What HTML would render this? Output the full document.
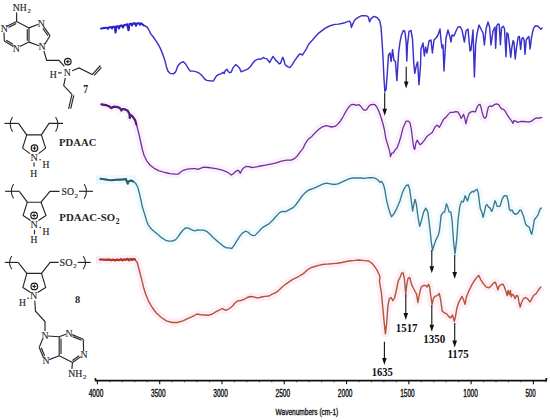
<!DOCTYPE html>
<html><head><meta charset="utf-8"><title>IR spectra</title>
<style>
html,body{margin:0;padding:0;background:#fff;}
body{width:550px;height:420px;overflow:hidden;font-family:"Liberation Sans",sans-serif;}
svg{display:block;}
</style></head><body>
<svg width="550" height="420" viewBox="0 0 550 420">
<rect width="550" height="420" fill="#fff"/>
<rect x="96" y="175.5" width="40" height="8.5" fill="#e2f7f9"/>
<rect x="96" y="256" width="40" height="7.6" fill="#fbe4f4"/>
<polyline points="101.4,104.4 105.9,105.1 109.5,106.6 111.4,108.2 113,107 114.1,106.6 117.7,107.1 120,108.2 121.4,110.5 122.4,109 125,109.4 127.7,110.7 129.5,114 129.8,118 130.5,115 132.3,116.2 135,119.8 136.4,124.5 137.5,128.3 139.2,135 140.8,142.5 142.5,150 144.2,155.8 146.7,160.8 150,165 154.2,168.3 159.2,170.8 165,172.5 170,173.7 175,174.2 178.3,174.2 180,172.5 183.3,170.3 187.5,169.2 192.3,168.6 195.2,168.6 198.1,169.3 201,168.2 203.9,167.2 208.3,167.5 212.6,168.2 217,168.9 221.4,169.9 225,171.1 227.9,172.5 230.1,174 231.3,175 233,174 234.5,172.5 236.6,170.7 238.5,170.4 240.3,173.3 241.7,170.4 243.2,168.2 246.1,166.3 249,166.7 251.9,167.5 254.8,167.2 257.7,166.7 260.6,166 265.4,165.2 270.7,164.1 276.1,162.9 281.4,161.1 286.8,160.2 291.3,160.2 294.8,158.4 297.5,155.7 300.2,151.8 302.9,148.6 305.5,143.2 308.2,139.3 311.8,136.4 315.4,132.5 318.9,129.3 322.5,126.8 326.1,125.7 328.3,126.1 331.5,127 334.8,126.4 337.5,124.4 340.3,121.2 343,116.8 345.7,111.9 348.4,107.5 351.2,104.6 353.9,104.3 356.6,105.4 358.8,104.6 361,106.5 363.2,109.7 365.3,110.3 367,109.2 368.6,106.5 370.8,104.6 373.5,104.3 375.2,104.8 376.8,107 378.4,110.3 380.1,114.6 381.7,119.5 383.3,125 384.4,129.9 385.9,138.8 387.9,145.4 389.8,151.9 390.5,156.5 391.8,153.2 393.1,153.2 395.1,149.9 397,148 399,142.7 401,136.2 402.9,128.3 404.9,123.8 406.2,121.1 408.2,121.1 409.9,122.4 411.2,128.3 412.5,138.8 413.8,148 414.7,149.3 416,142.7 417.3,140.1 418.6,142.7 419.9,144.7 421.9,143.4 424.5,140.1 427.1,136.2 429.8,134.2 432.4,132.3 435,127 437,125.1 439.4,127.2 441.5,123.4 443.7,119 445.9,117.4 448.1,114.6 450.3,112.4 453,112.4 455.7,111.6 457.9,111.9 459.5,114.6 461.2,118.4 462.3,116.8 463.6,114.4 464.7,117.9 465.9,123.9 467.2,118.4 468.8,113.5 471,111.9 473.2,111.4 475.3,111.9 477,107.5 478.6,104.8 479.9,104.3 480.8,106.5 481.9,111.4 483.5,116.8 484.9,118.4 486.3,116.8 487.3,111.4 488.4,107 490.1,105.9 491.7,106.5 493.3,105.4 495,104.3 496.5,103.9 498.7,104.6 500.4,107.5 502,109 503.6,109.4 505.3,111.4 507.4,115.2 509.6,118.4 511.8,121.2 512.9,123.4 514,120.6 515.6,121.2 517.8,122.3 520.5,121.5 523.8,121.5 527.1,121.9 529.3,122 531.4,121.2 533.6,119.5 535.8,118.1 538,117.9 539.6,118.2 541.8,117.4" fill="none" stroke="#fcf1fb" stroke-width="8" stroke-linejoin="round" stroke-linecap="butt"/>
<polyline points="100.5,178.8 104,179.2 108.6,180 112,180.2 116,179.8 120,179.6 122.3,179.5 126,179.1 127.7,183.6 128.2,181.8 130.9,180.5 133.2,181.4 135.5,183.2 137.7,186.8 139.8,195 142.4,207 144.9,215 146.5,220.5 148.2,224.8 150.9,228.6 154.2,231.4 158,234.6 161.8,237.9 165.6,240.3 168.9,241.2 172.2,241 175.4,239.9 177.6,237.4 180.3,233.5 183.1,230 185.8,227.9 188.5,228.1 191.3,229.7 194.5,230.8 197.8,230 200.5,230.1 203.5,230.1 206.8,231.4 210.1,234.3 213.3,237.7 216.6,240.6 219.9,243.2 223.2,246.1 226.4,247.8 229,247.8 231.7,248.5 234.3,245.2 236.9,240.6 239.5,236.7 242.1,233.4 245.4,231.2 248,232.1 250.7,234.7 253.3,235.6 255,235.4 258.6,231.7 262.1,227.9 265.7,225.7 269.3,223.6 272.9,220 276.4,216 279.3,212.9 282.1,211.4 285.7,211.7 289.3,209.7 293.6,207.4 296.4,204 299.3,200 302.1,196 305,192.9 308.6,190 312.9,188.6 316.4,187.1 320,185.4 322.6,184.1 326.5,183.1 330.3,183.8 334.1,184.5 337.9,183.8 341.7,182.2 345.5,180.3 349.4,178.7 353.2,178 357,178 360.8,178 364.6,178.4 368.5,177.7 372.3,177.7 375.5,178.4 378,180 379.9,182.2 381.8,181.5 383.7,185.4 385,190.5 386.4,199.3 387.9,205.7 389.7,212.1 391.4,216.7 393.6,214.3 395.7,210.7 397.9,205.7 400,200.7 402.1,193.6 404.3,188.6 406.4,185.3 408.3,185 409.7,189.3 411.1,199.3 412.6,211 414,203.6 415,199.3 416.4,204.3 417.9,216.4 419.7,226.4 421.4,220.7 423.6,212.1 425.7,208.1 427.9,212.1 430,229.6 431.3,242.1 432.5,250.2 433.9,245.7 435.7,240.4 438.4,235 439.6,229.6 441.1,215.4 442.9,212.7 444.6,211.8 446.4,203.8 447.9,207.3 449.1,211.8 450.9,211.8 452.1,220.7 453.6,242.1 455,253.8 456.8,238.6 458,220.7 459.8,206.4 461.6,201.1 463.4,202 465.2,195.7 467.5,201.1 469.6,193.9 472.3,191.3 473.6,192.1 475.7,190 477.1,189.3 478.3,192.9 479.3,201.4 480.3,208.6 482.1,212.9 483.1,217.4 484.3,212.9 485.7,205.7 487.1,204.6 488.6,207.1 490,207.9 491.7,211.4 493.1,207.9 495,200.7 496,202.9 497.1,206.4 500,206.4 502.1,199.3 504.3,195.7 506.9,196 508.3,201.4 509.3,209.3 510.7,210.7 512.1,210 513.6,213.1 515.7,214.3 517.9,213.1 520,210 521.4,210.7 523.6,216.4 525.7,224.3 527.9,226.4 529.3,227.1 530.7,232.1 531.7,234.3 532.9,228.6 534.3,220 536.4,217.1 538.3,214.3 540,209.3 541.4,207.9" fill="none" stroke="#eefafb" stroke-width="8" stroke-linejoin="round" stroke-linecap="butt"/>
<polyline points="100,259.5 104,259.6 107,259.8 109,259.4 111,260.3 113,259.6 115,260.4 117,259.5 119,260.2 121,259.2 122.5,260.4 124,259.3 126,259.9 127.5,258.8 129,260.3 130.5,259 132,260 133.5,258.9 135,259.6 137.2,262.5 138.8,268.3 140.5,275 142.2,281.7 143.8,288.3 146,295 148.8,301.7 152.2,307.5 156.3,313 161.3,317.5 166.3,320.8 172.2,322.5 177.2,322.5 183,320.8 188,318.3 192.2,316.7 197,314 200.8,314.7 204.6,315 208.5,315.3 212.3,314 216.1,311.7 219.3,310.2 222.5,308.5 224.4,309.8 226.3,310.2 229.5,308.5 232.6,306 235.2,302.8 237.7,300.9 240.9,300.5 244.1,299.3 247.3,297.5 249.8,296.5 253,296.7 256.2,297.7 260,297.5 261.4,297 265.2,296.4 269,296 272.2,294.2 275.4,292.9 278.5,290.6 281.7,287.5 285.5,284.3 289.4,281.7 293.2,279.2 297,277.3 299.5,276 301.5,274.7 302.7,274.1 304.6,272.6 307.2,270 311,267.7 314.8,266.5 318.6,265.4 322.5,264.5 326,264.1 328.7,264 333.1,263.6 337.4,263.3 341.8,262.5 346.2,261.5 350.5,260.7 354.9,260.4 359.3,260 362.5,260.4 365.8,260.9 368,260.7 370.2,262 372.3,263.6 374.5,266.4 376.7,269.6 378.9,274 380,277.3 379.4,281 381.3,291.8 383,309.6 384.3,323.9 385.4,333.8 386.6,323.9 387.9,306.1 389.3,298.9 391.1,297.5 392.9,300.7 394.6,298 396.4,290 398.2,281.1 400,277.5 401.8,273 403.2,273 404.5,279.3 405.7,293.6 406.8,284.6 408,278.4 409.8,277.5 411.6,284.6 413.4,288.2 415.2,291.8 416.4,293.6 417.9,302.5 419.3,294.5 421.1,287.3 423.2,285.5 425.7,285.4 427.1,287.1 428.6,284.3 429.7,287.1 430.7,295.7 432.1,304.3 433.6,297.9 435,296.4 437.1,295.7 439.3,293.6 440.7,300 442.1,310.7 444.3,312.9 446.4,313.6 448.6,316.4 450.7,317.9 452.6,315 454.3,321.4 455.4,317.1 456.9,307.9 458.6,302.9 460.7,298.6 462.1,296.4 463.6,300 465,304.3 466.4,297.1 468.6,291.4 471.4,285.7 474.3,280.7 477.1,277.1 478.8,275.4 480.7,279.6 483.3,283.5 485.8,286.6 488.4,287.9 490.9,286.4 493.5,282.8 495.4,282.2 496.6,285.4 497.9,289.8 499.2,286 501.1,284.7 503,284.1 504.5,287.3 506.2,292.4 507.1,295.5 508.1,290.5 509.4,294.9 510.4,290.5 511.3,296.8 512.5,294.3 513.8,295.5 515.1,298.7 516.4,295.5 518,296.2 518.9,301.9 520.2,307 521.5,302.5 523.4,298.7 525.7,297.5 527.8,299.1 530,301.9 531.6,299.4 533.5,295.5 536.1,293.6 538.6,289.8 540.9,286.9" fill="none" stroke="#fdeef8" stroke-width="8" stroke-linejoin="round" stroke-linecap="butt"/>
<polyline points="101,28.6 104,28 107,27.6 108,28.8 109,27.4 111,27 112,28.4 113,26.8 115,26.6 115.5,32.5 116.5,26.4 118,26.2 119,28.5 120,25.8 122,25.5 123,27.5 124,25.2 126,24.6 127,24.2 128.5,30.3 129.5,24 131,23.6 132,25.5 133,23.5 135,23.3 136,25.8 137,23.4 139,23.2 140,24.8 141,23.2 143.9,25.4 147,27 148.5,29.3 150.8,33.9 153.9,37.8 157,42.4 160.1,47.9 162.4,53.3 164.8,60.2 166.3,66.4 167.9,71.1 170.2,73.4 173.3,73.9 175.6,71.9 177.9,65.7 181,62.6 183.3,61.8 185.7,64.1 188,68 190.3,71.1 193.4,71.1 196.5,71.9 199.6,73.4 202.4,76.1 204.5,78.8 206.7,80.4 210,80.8 213.3,81 214.9,78.3 216.5,75.8 219.3,74.2 221.4,73.6 223.1,72.3 224.2,73.6 225.3,70.6 226.9,69.2 228,71.2 229.6,72.8 231.3,72 232.9,67.9 235.6,64.6 237.8,66.3 239.4,67.9 241.1,71.7 242.7,71.2 244.9,70.3 247.6,69.2 250.3,66.8 252.5,63.5 255.3,60.3 258,59.2 259.4,58.9 261,59.2 263.2,57.5 264.8,58.4 266.5,58.6 268.1,60.5 269.7,62.5 271.4,59.4 273,56.4 274.4,58.1 275.7,60.3 277.4,61.6 279,63.8 280.6,63.3 281.7,60 282.8,57.3 283.9,60 285,64.4 286.6,66 288.3,66.9 289.9,67.6 292.1,64.9 294.3,61.1 297,57.3 299.7,54 301.3,54.2 302.4,55.1 304.1,52.4 306.3,49.1 308.4,44.7 310.6,42 312.8,39.8 315,37.1 318.7,33.1 322,30.6 325.3,28.2 328.5,26.5 331.8,25.2 335.1,24.4 338.4,24.1 341.6,23.5 344.9,22.7 347.6,21.6 349.5,21.1 350.6,23 351.4,27.4 352.5,24.6 354.2,20.8 356.3,18.6 359.1,16.8 361.8,15.7 364.5,15.7 366.7,15.9 368.3,17 369.6,21.8 371.1,18.6 373.9,16.4 377.1,17.5 379.7,20.7 381,27.1 382.1,42.1 383.1,59.3 384,78.6 384.9,91.4 386.1,89.3 387.2,74.3 388.5,55 390,52.9 391.1,61.4 392.6,49.6 393.9,60.4 395.4,61.4 396.9,80.7 398.6,52.9 400,42.1 401.4,35.2 403.3,30.5 404.9,31.4 406.2,42.9 406.8,61 407.5,44.8 409,31.4 411,30.5 412.5,39 413.8,63.8 414.8,73.3 416.3,65.7 417.6,61.9 419,84.8 420.5,65.7 421,49 423,43 424.4,56 425.6,47 427,53 429,41 431,40 432.4,53 434,40 436,38 438,35 440,29 441,40 442,48 443,45 444,71 445,53 446,38 448,30 450,37 451,42 452,35 454,36 456,31 458,27 460,26.6 462,30 464.4,42 466,31 468,29 470,51 471,50 473,30 474.4,77 475.6,45 477,34 479,25 481,29 483,33 484.4,45 486,29 488,22 489.6,27 491,45 493,31 495,27 495.6,48.3 496.8,25.7 498,23.9 499.2,24.5 500.4,44.8 501.5,28.1 503.3,26.3 504.5,28.7 506,56.7 506.9,32.9 508.1,34 509.3,43.6 510.7,57.3 511.7,48.3 513.1,40.6 514,42.4 515.2,59 516.4,48.3 518.2,37 519.4,36.4 520.6,49.5 521.8,38.8 523,37.6 524.2,40.6 525,54.3 526.2,40 527.7,37.6 528.9,36.4 530.1,48.9 531.3,38.8 532.5,32.3 533.7,28.1 535.5,25.7 537.9,26.3 539.6,28.1 540.8,29.3 542,28.1" fill="none" stroke="#3a30cc" stroke-width="1.45" stroke-linejoin="round" stroke-linecap="round"/>
<polyline points="101,28.6 104,28 107,27.6 108,28.8 109,27.4 111,27 112,28.4 113,26.8 115,26.6 115.5,32.5 116.5,26.4 118,26.2 119,28.5 120,25.8 122,25.5 123,27.5 124,25.2 126,24.6 127,24.2 128.5,30.3 129.5,24 131,23.6 132,25.5 133,23.5 135,23.3 136,25.8 137,23.4 139,23.2 140,24.8 141,23.2 143.9,25.4" fill="none" stroke="#2a20d0" stroke-width="1.9" stroke-linejoin="round" stroke-linecap="round"/>
<polyline points="101.4,104.4 105.9,105.1 109.5,106.6 111.4,108.2 113,107 114.1,106.6 117.7,107.1 120,108.2 121.4,110.5 122.4,109 125,109.4 127.7,110.7 129.5,114 129.8,118 130.5,115 132.3,116.2 135,119.8 136.4,124.5 137.5,128.3 139.2,135 140.8,142.5 142.5,150 144.2,155.8 146.7,160.8 150,165 154.2,168.3 159.2,170.8 165,172.5 170,173.7 175,174.2 178.3,174.2 180,172.5 183.3,170.3 187.5,169.2 192.3,168.6 195.2,168.6 198.1,169.3 201,168.2 203.9,167.2 208.3,167.5 212.6,168.2 217,168.9 221.4,169.9 225,171.1 227.9,172.5 230.1,174 231.3,175 233,174 234.5,172.5 236.6,170.7 238.5,170.4 240.3,173.3 241.7,170.4 243.2,168.2 246.1,166.3 249,166.7 251.9,167.5 254.8,167.2 257.7,166.7 260.6,166 265.4,165.2 270.7,164.1 276.1,162.9 281.4,161.1 286.8,160.2 291.3,160.2 294.8,158.4 297.5,155.7 300.2,151.8 302.9,148.6 305.5,143.2 308.2,139.3 311.8,136.4 315.4,132.5 318.9,129.3 322.5,126.8 326.1,125.7 328.3,126.1 331.5,127 334.8,126.4 337.5,124.4 340.3,121.2 343,116.8 345.7,111.9 348.4,107.5 351.2,104.6 353.9,104.3 356.6,105.4 358.8,104.6 361,106.5 363.2,109.7 365.3,110.3 367,109.2 368.6,106.5 370.8,104.6 373.5,104.3 375.2,104.8 376.8,107 378.4,110.3 380.1,114.6 381.7,119.5 383.3,125 384.4,129.9 385.9,138.8 387.9,145.4 389.8,151.9 390.5,156.5 391.8,153.2 393.1,153.2 395.1,149.9 397,148 399,142.7 401,136.2 402.9,128.3 404.9,123.8 406.2,121.1 408.2,121.1 409.9,122.4 411.2,128.3 412.5,138.8 413.8,148 414.7,149.3 416,142.7 417.3,140.1 418.6,142.7 419.9,144.7 421.9,143.4 424.5,140.1 427.1,136.2 429.8,134.2 432.4,132.3 435,127 437,125.1 439.4,127.2 441.5,123.4 443.7,119 445.9,117.4 448.1,114.6 450.3,112.4 453,112.4 455.7,111.6 457.9,111.9 459.5,114.6 461.2,118.4 462.3,116.8 463.6,114.4 464.7,117.9 465.9,123.9 467.2,118.4 468.8,113.5 471,111.9 473.2,111.4 475.3,111.9 477,107.5 478.6,104.8 479.9,104.3 480.8,106.5 481.9,111.4 483.5,116.8 484.9,118.4 486.3,116.8 487.3,111.4 488.4,107 490.1,105.9 491.7,106.5 493.3,105.4 495,104.3 496.5,103.9 498.7,104.6 500.4,107.5 502,109 503.6,109.4 505.3,111.4 507.4,115.2 509.6,118.4 511.8,121.2 512.9,123.4 514,120.6 515.6,121.2 517.8,122.3 520.5,121.5 523.8,121.5 527.1,121.9 529.3,122 531.4,121.2 533.6,119.5 535.8,118.1 538,117.9 539.6,118.2 541.8,117.4" fill="none" stroke="#6a32a0" stroke-width="1.3" stroke-linejoin="round" stroke-linecap="round"/>
<polyline points="101.4,104.4 105.9,105.1 109.5,106.6 111.4,108.2 113,107 114.1,106.6 117.7,107.1 120,108.2 121.4,110.5 122.4,109 125,109.4 127.7,110.7 129.5,114 129.8,118 130.5,115 132.3,116.2 135,119.8 136.4,124.5" fill="none" stroke="#4e1f78" stroke-width="2.2" stroke-linejoin="round" stroke-linecap="round"/>
<polyline points="100.5,178.8 104,179.2 108.6,180 112,180.2 116,179.8 120,179.6 122.3,179.5 126,179.1 127.7,183.6 128.2,181.8 130.9,180.5 133.2,181.4 135.5,183.2 137.7,186.8 139.8,195 142.4,207 144.9,215 146.5,220.5 148.2,224.8 150.9,228.6 154.2,231.4 158,234.6 161.8,237.9 165.6,240.3 168.9,241.2 172.2,241 175.4,239.9 177.6,237.4 180.3,233.5 183.1,230 185.8,227.9 188.5,228.1 191.3,229.7 194.5,230.8 197.8,230 200.5,230.1 203.5,230.1 206.8,231.4 210.1,234.3 213.3,237.7 216.6,240.6 219.9,243.2 223.2,246.1 226.4,247.8 229,247.8 231.7,248.5 234.3,245.2 236.9,240.6 239.5,236.7 242.1,233.4 245.4,231.2 248,232.1 250.7,234.7 253.3,235.6 255,235.4 258.6,231.7 262.1,227.9 265.7,225.7 269.3,223.6 272.9,220 276.4,216 279.3,212.9 282.1,211.4 285.7,211.7 289.3,209.7 293.6,207.4 296.4,204 299.3,200 302.1,196 305,192.9 308.6,190 312.9,188.6 316.4,187.1 320,185.4 322.6,184.1 326.5,183.1 330.3,183.8 334.1,184.5 337.9,183.8 341.7,182.2 345.5,180.3 349.4,178.7 353.2,178 357,178 360.8,178 364.6,178.4 368.5,177.7 372.3,177.7 375.5,178.4 378,180 379.9,182.2 381.8,181.5 383.7,185.4 385,190.5 386.4,199.3 387.9,205.7 389.7,212.1 391.4,216.7 393.6,214.3 395.7,210.7 397.9,205.7 400,200.7 402.1,193.6 404.3,188.6 406.4,185.3 408.3,185 409.7,189.3 411.1,199.3 412.6,211 414,203.6 415,199.3 416.4,204.3 417.9,216.4 419.7,226.4 421.4,220.7 423.6,212.1 425.7,208.1 427.9,212.1 430,229.6 431.3,242.1 432.5,250.2 433.9,245.7 435.7,240.4 438.4,235 439.6,229.6 441.1,215.4 442.9,212.7 444.6,211.8 446.4,203.8 447.9,207.3 449.1,211.8 450.9,211.8 452.1,220.7 453.6,242.1 455,253.8 456.8,238.6 458,220.7 459.8,206.4 461.6,201.1 463.4,202 465.2,195.7 467.5,201.1 469.6,193.9 472.3,191.3 473.6,192.1 475.7,190 477.1,189.3 478.3,192.9 479.3,201.4 480.3,208.6 482.1,212.9 483.1,217.4 484.3,212.9 485.7,205.7 487.1,204.6 488.6,207.1 490,207.9 491.7,211.4 493.1,207.9 495,200.7 496,202.9 497.1,206.4 500,206.4 502.1,199.3 504.3,195.7 506.9,196 508.3,201.4 509.3,209.3 510.7,210.7 512.1,210 513.6,213.1 515.7,214.3 517.9,213.1 520,210 521.4,210.7 523.6,216.4 525.7,224.3 527.9,226.4 529.3,227.1 530.7,232.1 531.7,234.3 532.9,228.6 534.3,220 536.4,217.1 538.3,214.3 540,209.3 541.4,207.9" fill="none" stroke="#3d7690" stroke-width="1.35" stroke-linejoin="round" stroke-linecap="round"/>
<polyline points="100.5,178.8 104,179.2 108.6,180 112,180.2 116,179.8 120,179.6 122.3,179.5 126,179.1 127.7,183.6 128.2,181.8 130.9,180.5 133.2,181.4" fill="none" stroke="#2f5d70" stroke-width="2.1" stroke-linejoin="round" stroke-linecap="round"/>
<polyline points="100,259.5 104,259.6 107,259.8 109,259.4 111,260.3 113,259.6 115,260.4 117,259.5 119,260.2 121,259.2 122.5,260.4 124,259.3 126,259.9 127.5,258.8 129,260.3 130.5,259 132,260 133.5,258.9 135,259.6 137.2,262.5 138.8,268.3 140.5,275 142.2,281.7 143.8,288.3 146,295 148.8,301.7 152.2,307.5 156.3,313 161.3,317.5 166.3,320.8 172.2,322.5 177.2,322.5 183,320.8 188,318.3 192.2,316.7 197,314 200.8,314.7 204.6,315 208.5,315.3 212.3,314 216.1,311.7 219.3,310.2 222.5,308.5 224.4,309.8 226.3,310.2 229.5,308.5 232.6,306 235.2,302.8 237.7,300.9 240.9,300.5 244.1,299.3 247.3,297.5 249.8,296.5 253,296.7 256.2,297.7 260,297.5 261.4,297 265.2,296.4 269,296 272.2,294.2 275.4,292.9 278.5,290.6 281.7,287.5 285.5,284.3 289.4,281.7 293.2,279.2 297,277.3 299.5,276 301.5,274.7 302.7,274.1 304.6,272.6 307.2,270 311,267.7 314.8,266.5 318.6,265.4 322.5,264.5 326,264.1 328.7,264 333.1,263.6 337.4,263.3 341.8,262.5 346.2,261.5 350.5,260.7 354.9,260.4 359.3,260 362.5,260.4 365.8,260.9 368,260.7 370.2,262 372.3,263.6 374.5,266.4 376.7,269.6 378.9,274 380,277.3 379.4,281 381.3,291.8 383,309.6 384.3,323.9 385.4,333.8 386.6,323.9 387.9,306.1 389.3,298.9 391.1,297.5 392.9,300.7 394.6,298 396.4,290 398.2,281.1 400,277.5 401.8,273 403.2,273 404.5,279.3 405.7,293.6 406.8,284.6 408,278.4 409.8,277.5 411.6,284.6 413.4,288.2 415.2,291.8 416.4,293.6 417.9,302.5 419.3,294.5 421.1,287.3 423.2,285.5 425.7,285.4 427.1,287.1 428.6,284.3 429.7,287.1 430.7,295.7 432.1,304.3 433.6,297.9 435,296.4 437.1,295.7 439.3,293.6 440.7,300 442.1,310.7 444.3,312.9 446.4,313.6 448.6,316.4 450.7,317.9 452.6,315 454.3,321.4 455.4,317.1 456.9,307.9 458.6,302.9 460.7,298.6 462.1,296.4 463.6,300 465,304.3 466.4,297.1 468.6,291.4 471.4,285.7 474.3,280.7 477.1,277.1 478.8,275.4 480.7,279.6 483.3,283.5 485.8,286.6 488.4,287.9 490.9,286.4 493.5,282.8 495.4,282.2 496.6,285.4 497.9,289.8 499.2,286 501.1,284.7 503,284.1 504.5,287.3 506.2,292.4 507.1,295.5 508.1,290.5 509.4,294.9 510.4,290.5 511.3,296.8 512.5,294.3 513.8,295.5 515.1,298.7 516.4,295.5 518,296.2 518.9,301.9 520.2,307 521.5,302.5 523.4,298.7 525.7,297.5 527.8,299.1 530,301.9 531.6,299.4 533.5,295.5 536.1,293.6 538.6,289.8 540.9,286.9" fill="none" stroke="#b05636" stroke-width="1.4" stroke-linejoin="round" stroke-linecap="round"/>
<polyline points="100,259.5 104,259.6 107,259.8 109,259.4 111,260.3 113,259.6 115,260.4 117,259.5 119,260.2 121,259.2 122.5,260.4 124,259.3 126,259.9 127.5,258.8 129,260.3 130.5,259 132,260 133.5,258.9 135,259.6" fill="none" stroke="#b03820" stroke-width="2.2" stroke-linejoin="round" stroke-linecap="round"/>
<line x1="384.7" y1="92.5" x2="384.7" y2="109.8" stroke="#111" stroke-width="1.1"/>
<polygon points="382.4,108.8 387.0,108.8 384.7,115.8" fill="#111"/>
<line x1="406.2" y1="66.7" x2="406.2" y2="82.6" stroke="#111" stroke-width="1.1"/>
<polygon points="403.9,81.6 408.5,81.6 406.2,88.6" fill="#111"/>
<line x1="431.8" y1="250" x2="431.8" y2="267.3" stroke="#111" stroke-width="1.1"/>
<polygon points="429.5,266.3 434.1,266.3 431.8,273.3" fill="#111"/>
<line x1="454.7" y1="255" x2="454.7" y2="273.0" stroke="#111" stroke-width="1.1"/>
<polygon points="452.4,272.0 457.0,272.0 454.7,279" fill="#111"/>
<line x1="405.8" y1="294" x2="405.8" y2="314.0" stroke="#111" stroke-width="1.1"/>
<polygon points="403.5,313.0 408.1,313.0 405.8,320" fill="#111"/>
<line x1="431.8" y1="305" x2="431.8" y2="325.7" stroke="#111" stroke-width="1.1"/>
<polygon points="429.5,324.7 434.1,324.7 431.8,331.7" fill="#111"/>
<line x1="454.7" y1="323" x2="454.7" y2="341.5" stroke="#111" stroke-width="1.1"/>
<polygon points="452.4,340.5 457.0,340.5 454.7,347.5" fill="#111"/>
<line x1="384.4" y1="341.7" x2="384.4" y2="358.9" stroke="#111" stroke-width="1.1"/>
<polygon points="382.09999999999997,357.9 386.7,357.9 384.4,364.9" fill="#111"/>
<polyline points="95.3,378.2 95.6,380.7 546.2,380.7 546.4,378.0" fill="none" stroke="#111" stroke-width="1.8" stroke-linejoin="round"/>
<line x1="97.40" y1="380.5" x2="97.40" y2="384.2" stroke="#111" stroke-width="1.1"/>
<line x1="109.86" y1="380.5" x2="109.86" y2="382.3" stroke="#111" stroke-width="0.7"/>
<line x1="122.31" y1="380.5" x2="122.31" y2="382.3" stroke="#111" stroke-width="0.7"/>
<line x1="134.77" y1="380.5" x2="134.77" y2="382.3" stroke="#111" stroke-width="0.7"/>
<line x1="147.23" y1="380.5" x2="147.23" y2="382.3" stroke="#111" stroke-width="0.7"/>
<line x1="159.69" y1="380.5" x2="159.69" y2="384.2" stroke="#111" stroke-width="1.1"/>
<line x1="172.14" y1="380.5" x2="172.14" y2="382.3" stroke="#111" stroke-width="0.7"/>
<line x1="184.60" y1="380.5" x2="184.60" y2="382.3" stroke="#111" stroke-width="0.7"/>
<line x1="197.06" y1="380.5" x2="197.06" y2="382.3" stroke="#111" stroke-width="0.7"/>
<line x1="209.51" y1="380.5" x2="209.51" y2="382.3" stroke="#111" stroke-width="0.7"/>
<line x1="221.97" y1="380.5" x2="221.97" y2="384.2" stroke="#111" stroke-width="1.1"/>
<line x1="234.43" y1="380.5" x2="234.43" y2="382.3" stroke="#111" stroke-width="0.7"/>
<line x1="246.89" y1="380.5" x2="246.89" y2="382.3" stroke="#111" stroke-width="0.7"/>
<line x1="259.34" y1="380.5" x2="259.34" y2="382.3" stroke="#111" stroke-width="0.7"/>
<line x1="271.80" y1="380.5" x2="271.80" y2="382.3" stroke="#111" stroke-width="0.7"/>
<line x1="284.26" y1="380.5" x2="284.26" y2="384.2" stroke="#111" stroke-width="1.1"/>
<line x1="296.71" y1="380.5" x2="296.71" y2="382.3" stroke="#111" stroke-width="0.7"/>
<line x1="309.17" y1="380.5" x2="309.17" y2="382.3" stroke="#111" stroke-width="0.7"/>
<line x1="321.63" y1="380.5" x2="321.63" y2="382.3" stroke="#111" stroke-width="0.7"/>
<line x1="334.08" y1="380.5" x2="334.08" y2="382.3" stroke="#111" stroke-width="0.7"/>
<line x1="346.54" y1="380.5" x2="346.54" y2="384.2" stroke="#111" stroke-width="1.1"/>
<line x1="359.00" y1="380.5" x2="359.00" y2="382.3" stroke="#111" stroke-width="0.7"/>
<line x1="371.46" y1="380.5" x2="371.46" y2="382.3" stroke="#111" stroke-width="0.7"/>
<line x1="383.91" y1="380.5" x2="383.91" y2="382.3" stroke="#111" stroke-width="0.7"/>
<line x1="396.37" y1="380.5" x2="396.37" y2="382.3" stroke="#111" stroke-width="0.7"/>
<line x1="408.83" y1="380.5" x2="408.83" y2="384.2" stroke="#111" stroke-width="1.1"/>
<line x1="421.28" y1="380.5" x2="421.28" y2="382.3" stroke="#111" stroke-width="0.7"/>
<line x1="433.74" y1="380.5" x2="433.74" y2="382.3" stroke="#111" stroke-width="0.7"/>
<line x1="446.20" y1="380.5" x2="446.20" y2="382.3" stroke="#111" stroke-width="0.7"/>
<line x1="458.66" y1="380.5" x2="458.66" y2="382.3" stroke="#111" stroke-width="0.7"/>
<line x1="471.11" y1="380.5" x2="471.11" y2="384.2" stroke="#111" stroke-width="1.1"/>
<line x1="483.57" y1="380.5" x2="483.57" y2="382.3" stroke="#111" stroke-width="0.7"/>
<line x1="496.03" y1="380.5" x2="496.03" y2="382.3" stroke="#111" stroke-width="0.7"/>
<line x1="508.48" y1="380.5" x2="508.48" y2="382.3" stroke="#111" stroke-width="0.7"/>
<line x1="520.94" y1="380.5" x2="520.94" y2="382.3" stroke="#111" stroke-width="0.7"/>
<line x1="533.40" y1="380.5" x2="533.40" y2="384.2" stroke="#111" stroke-width="1.1"/>
<line x1="545.86" y1="380.5" x2="545.86" y2="382.3" stroke="#111" stroke-width="0.7"/>
<text x="88.70" y="397.2" font-family="Liberation Sans" font-size="10.1" textLength="14.6" lengthAdjust="spacingAndGlyphs" fill="#111" stroke="#111" stroke-width="0.4">4000</text>
<text x="150.99" y="397.2" font-family="Liberation Sans" font-size="10.1" textLength="14.6" lengthAdjust="spacingAndGlyphs" fill="#111" stroke="#111" stroke-width="0.4">3500</text>
<text x="213.27" y="397.2" font-family="Liberation Sans" font-size="10.1" textLength="14.6" lengthAdjust="spacingAndGlyphs" fill="#111" stroke="#111" stroke-width="0.4">3000</text>
<text x="275.56" y="397.2" font-family="Liberation Sans" font-size="10.1" textLength="14.6" lengthAdjust="spacingAndGlyphs" fill="#111" stroke="#111" stroke-width="0.4">2500</text>
<text x="337.84" y="397.2" font-family="Liberation Sans" font-size="10.1" textLength="14.6" lengthAdjust="spacingAndGlyphs" fill="#111" stroke="#111" stroke-width="0.4">2000</text>
<text x="400.13" y="397.2" font-family="Liberation Sans" font-size="10.1" textLength="14.6" lengthAdjust="spacingAndGlyphs" fill="#111" stroke="#111" stroke-width="0.4">1500</text>
<text x="463.31" y="397.2" font-family="Liberation Sans" font-size="10.1" textLength="14.6" lengthAdjust="spacingAndGlyphs" fill="#111" stroke="#111" stroke-width="0.4">1000</text>
<text x="525.40" y="397.2" font-family="Liberation Sans" font-size="10.1" textLength="10.4" lengthAdjust="spacingAndGlyphs" fill="#111" stroke="#111" stroke-width="0.4">500</text>
<text x="275.6" y="414.6" font-family="Liberation Sans" font-size="8.8" textLength="62.7" lengthAdjust="spacingAndGlyphs" fill="#111" stroke="#111" stroke-width="0.35">Wavenumbers (cm-1)</text>
<text x="371.8" y="375.9" font-family="Liberation Serif" font-weight="bold" font-size="12.0" textLength="21.1" lengthAdjust="spacingAndGlyphs" fill="#111">1635</text>
<text x="395.8" y="331.7" font-family="Liberation Serif" font-weight="bold" font-size="12.0" textLength="21.7" lengthAdjust="spacingAndGlyphs" fill="#111">1517</text>
<text x="423.3" y="343" font-family="Liberation Serif" font-weight="bold" font-size="12.0" textLength="22" lengthAdjust="spacingAndGlyphs" fill="#111">1350</text>
<text x="447.5" y="358" font-family="Liberation Serif" font-weight="bold" font-size="12.0" textLength="21.2" lengthAdjust="spacingAndGlyphs" fill="#111">1175</text>
<text x="12.80" y="10.50" font-family="Liberation Serif" font-size="9.6" textLength="14.0" lengthAdjust="spacingAndGlyphs" text-anchor="start" fill="#262626" stroke="#262626" stroke-width="0.18">NH</text>
<text x="27.40" y="12.60" font-family="Liberation Serif" font-size="6.8" text-anchor="start" fill="#262626" stroke="#262626" stroke-width="0.18">2</text>
<line x1="16.60" y1="12.40" x2="16.60" y2="21.40" stroke="#262626" stroke-width="1.15"/>
<line x1="16.60" y1="21.40" x2="6.60" y2="26.60" stroke="#262626" stroke-width="1.15"/>
<line x1="16.18" y1="23.53" x2="8.58" y2="27.48" stroke="#262626" stroke-width="1.15"/>
<line x1="4.00" y1="32.40" x2="4.30" y2="41.00" stroke="#262626" stroke-width="1.15"/>
<line x1="4.30" y1="41.00" x2="13.30" y2="46.40" stroke="#262626" stroke-width="1.15"/>
<line x1="6.25" y1="40.19" x2="13.09" y2="44.29" stroke="#262626" stroke-width="1.15"/>
<line x1="19.80" y1="46.60" x2="29.00" y2="42.10" stroke="#262626" stroke-width="1.15"/>
<line x1="29.00" y1="42.10" x2="29.00" y2="27.90" stroke="#262626" stroke-width="1.15"/>
<line x1="27.30" y1="40.68" x2="27.30" y2="29.32" stroke="#262626" stroke-width="1.15"/>
<line x1="29.00" y1="27.90" x2="16.60" y2="21.40" stroke="#262626" stroke-width="1.15"/>
<line x1="29.00" y1="27.90" x2="38.40" y2="24.30" stroke="#262626" stroke-width="1.15"/>
<line x1="43.60" y1="26.60" x2="50.00" y2="35.70" stroke="#262626" stroke-width="1.15"/>
<line x1="42.85" y1="28.49" x2="47.97" y2="35.77" stroke="#262626" stroke-width="1.15"/>
<line x1="50.00" y1="35.70" x2="44.80" y2="44.20" stroke="#262626" stroke-width="1.15"/>
<line x1="39.00" y1="45.80" x2="29.00" y2="42.10" stroke="#262626" stroke-width="1.15"/>
<text x="4.20" y="32.20" font-family="Liberation Serif" font-size="9.8" text-anchor="middle" fill="#262626" stroke="#262626" stroke-width="0.1">N</text>
<text x="16.40" y="52.10" font-family="Liberation Serif" font-size="9.8" text-anchor="middle" fill="#262626" stroke="#262626" stroke-width="0.1">N</text>
<text x="41.40" y="26.50" font-family="Liberation Serif" font-size="9.8" text-anchor="middle" fill="#262626" stroke="#262626" stroke-width="0.1">N</text>
<text x="42.10" y="50.30" font-family="Liberation Serif" font-size="9.8" text-anchor="middle" fill="#262626" stroke="#262626" stroke-width="0.1">N</text>
<polyline points="43.90,51.00 46.70,60.40 58.90,60.40 64.40,66.40" fill="none" stroke="#262626" stroke-width="1.15" stroke-linejoin="miter"/>
<circle cx="67.8" cy="61.6" r="3.3" fill="none" stroke="#1a1a1a" stroke-width="1.2"/>
<line x1="65.89" y1="61.60" x2="69.71" y2="61.60" stroke="#1a1a1a" stroke-width="1.1"/>
<line x1="67.80" y1="59.69" x2="67.80" y2="63.51" stroke="#1a1a1a" stroke-width="1.1"/>
<text x="67.20" y="75.60" font-family="Liberation Serif" font-size="9.8" text-anchor="middle" fill="#262626" stroke="#262626" stroke-width="0.1">N</text>
<text x="53.40" y="78.20" font-family="Liberation Serif" font-size="9.8" text-anchor="middle" fill="#262626" stroke="#262626" stroke-width="0.18">H</text>
<line x1="58.00" y1="72.90" x2="61.70" y2="72.90" stroke="#262626" stroke-width="1.15"/>
<polyline points="72.20,70.80 79.00,67.90 92.30,74.60 100.40,65.50" fill="none" stroke="#262626" stroke-width="1.15" stroke-linejoin="miter"/>
<line x1="94.20" y1="75.47" x2="101.49" y2="67.28" stroke="#262626" stroke-width="1.15"/>
<polyline points="65.30,77.90 63.70,85.60 72.00,94.30 68.60,108.80" fill="none" stroke="#262626" stroke-width="1.15" stroke-linejoin="miter"/>
<line x1="73.78" y1="95.48" x2="70.72" y2="108.53" stroke="#262626" stroke-width="1.15"/>
<text x="83.30" y="92.70" font-family="Liberation Serif" font-size="11.8" font-weight="bold" textLength="4.9" lengthAdjust="spacingAndGlyphs" text-anchor="start" fill="#262626">7</text>
<line x1="4.50" y1="123.40" x2="18.50" y2="123.40" stroke="#262626" stroke-width="1.15"/>
<path d="M12.50,117.00 Q7.90,124.30 12.50,131.60" fill="none" stroke="#262626" stroke-width="1.05"/>
<polyline points="18.50,123.40 26.70,134.80 41.40,134.80 49.00,123.40 63.00,123.40" fill="none" stroke="#262626" stroke-width="1.15" stroke-linejoin="miter"/>
<path d="M55.60,117.00 Q60.20,124.30 55.60,131.60" fill="none" stroke="#262626" stroke-width="1.05"/>
<polyline points="26.70,134.80 22.60,148.10 30.00,153.60" fill="none" stroke="#262626" stroke-width="1.15" stroke-linejoin="miter"/>
<polyline points="41.40,134.80 45.60,148.10 38.60,153.60" fill="none" stroke="#262626" stroke-width="1.15" stroke-linejoin="miter"/>
<circle cx="34.5" cy="148.1" r="3.3" fill="none" stroke="#1a1a1a" stroke-width="1.2"/>
<line x1="32.59" y1="148.10" x2="36.41" y2="148.10" stroke="#1a1a1a" stroke-width="1.1"/>
<line x1="34.50" y1="146.19" x2="34.50" y2="150.01" stroke="#1a1a1a" stroke-width="1.1"/>
<text x="34.20" y="160.50" font-family="Liberation Serif" font-size="10.2" text-anchor="middle" fill="#262626" stroke="#262626" stroke-width="0.1">N</text>
<circle cx="40.1" cy="159.7" r="0.8" fill="#262626"/>
<text x="46.00" y="167.70" font-family="Liberation Serif" font-size="9.6" text-anchor="middle" fill="#262626" stroke="#262626" stroke-width="0.18">H</text>
<line x1="34.00" y1="162.40" x2="34.00" y2="166.40" stroke="#262626" stroke-width="1.15"/>
<text x="33.60" y="176.70" font-family="Liberation Serif" font-size="9.6" text-anchor="middle" fill="#262626" stroke="#262626" stroke-width="0.18">H</text>
<text x="59.00" y="146.30" font-family="Liberation Serif" font-size="10.4" font-weight="bold" textLength="37.4" lengthAdjust="spacingAndGlyphs" text-anchor="start" fill="#262626">PDAAC</text>
<line x1="5.10" y1="191.30" x2="19.30" y2="191.30" stroke="#262626" stroke-width="1.15"/>
<path d="M13.60,184.00 Q9.00,191.25 13.60,198.50" fill="none" stroke="#262626" stroke-width="1.05"/>
<polyline points="19.30,191.30 27.30,202.20 41.00,202.20 50.00,191.30 59.50,191.30" fill="none" stroke="#262626" stroke-width="1.15" stroke-linejoin="miter"/>
<text x="61.50" y="195.00" font-family="Liberation Serif" font-size="9.8" textLength="12.5" lengthAdjust="spacingAndGlyphs" text-anchor="start" fill="#262626" stroke="#262626" stroke-width="0.18">SO</text>
<text x="74.50" y="198.00" font-family="Liberation Serif" font-size="7.0" text-anchor="start" fill="#262626" stroke="#262626" stroke-width="0.18">2</text>
<line x1="79.00" y1="191.30" x2="93.00" y2="191.30" stroke="#262626" stroke-width="1.15"/>
<path d="M84.20,184.00 Q88.80,191.35 84.20,198.70" fill="none" stroke="#262626" stroke-width="1.05"/>
<polyline points="27.30,202.20 23.10,215.50 30.60,220.60" fill="none" stroke="#262626" stroke-width="1.15" stroke-linejoin="miter"/>
<polyline points="41.00,202.20 46.00,215.50 38.40,220.60" fill="none" stroke="#262626" stroke-width="1.15" stroke-linejoin="miter"/>
<circle cx="34.1" cy="215.5" r="3.3" fill="none" stroke="#1a1a1a" stroke-width="1.2"/>
<line x1="32.19" y1="215.50" x2="36.01" y2="215.50" stroke="#1a1a1a" stroke-width="1.1"/>
<line x1="34.10" y1="213.59" x2="34.10" y2="217.41" stroke="#1a1a1a" stroke-width="1.1"/>
<text x="34.30" y="228.00" font-family="Liberation Serif" font-size="10.2" text-anchor="middle" fill="#262626" stroke="#262626" stroke-width="0.1">N</text>
<circle cx="40.2" cy="227.6" r="0.8" fill="#262626"/>
<text x="46.00" y="234.60" font-family="Liberation Serif" font-size="9.6" text-anchor="middle" fill="#262626" stroke="#262626" stroke-width="0.18">H</text>
<line x1="34.50" y1="229.90" x2="34.50" y2="234.40" stroke="#262626" stroke-width="1.15"/>
<text x="34.00" y="243.20" font-family="Liberation Serif" font-size="9.6" text-anchor="middle" fill="#262626" stroke="#262626" stroke-width="0.18">H</text>
<text x="59.30" y="221.20" font-family="Liberation Serif" font-size="10.9" font-weight="bold" textLength="55.8" lengthAdjust="spacingAndGlyphs" text-anchor="start" fill="#262626">PDAAC-SO</text>
<text x="115.70" y="223.70" font-family="Liberation Serif" font-size="7.6" font-weight="bold" text-anchor="start" fill="#262626">2</text>
<line x1="4.80" y1="262.40" x2="18.10" y2="262.40" stroke="#262626" stroke-width="1.15"/>
<path d="M11.80,256.00 Q7.20,262.60 11.80,269.20" fill="none" stroke="#262626" stroke-width="1.05"/>
<polyline points="18.10,262.40 26.80,273.30 41.50,273.30 50.10,262.40 58.70,262.40" fill="none" stroke="#262626" stroke-width="1.15" stroke-linejoin="miter"/>
<text x="59.60" y="266.40" font-family="Liberation Serif" font-size="9.6" textLength="12.9" lengthAdjust="spacingAndGlyphs" text-anchor="start" fill="#262626" stroke="#262626" stroke-width="0.18">SO</text>
<text x="73.30" y="268.20" font-family="Liberation Serif" font-size="6.8" text-anchor="start" fill="#262626" stroke="#262626" stroke-width="0.18">2</text>
<line x1="77.70" y1="262.40" x2="90.70" y2="262.40" stroke="#262626" stroke-width="1.15"/>
<path d="M83.20,256.00 Q87.80,262.60 83.20,269.20" fill="none" stroke="#262626" stroke-width="1.05"/>
<polyline points="26.80,273.30 22.90,287.40 30.60,292.60" fill="none" stroke="#262626" stroke-width="1.15" stroke-linejoin="miter"/>
<polyline points="41.50,273.30 45.70,287.40 37.60,292.60" fill="none" stroke="#262626" stroke-width="1.15" stroke-linejoin="miter"/>
<circle cx="34.3" cy="286.4" r="3.3" fill="none" stroke="#1a1a1a" stroke-width="1.2"/>
<line x1="32.39" y1="286.40" x2="36.21" y2="286.40" stroke="#1a1a1a" stroke-width="1.1"/>
<line x1="34.30" y1="284.49" x2="34.30" y2="288.31" stroke="#1a1a1a" stroke-width="1.1"/>
<text x="33.80" y="298.90" font-family="Liberation Serif" font-size="10.2" text-anchor="middle" fill="#262626" stroke="#262626" stroke-width="0.1">N</text>
<text x="22.40" y="305.50" font-family="Liberation Serif" font-size="9.6" text-anchor="middle" fill="#262626" stroke="#262626" stroke-width="0.18">H</text>
<circle cx="28.1" cy="298.3" r="0.8" fill="#262626"/>
<polyline points="34.80,300.70 35.50,311.20 45.00,321.50 45.00,331.00" fill="none" stroke="#262626" stroke-width="1.15" stroke-linejoin="miter"/>
<text x="75.00" y="303.20" font-family="Liberation Serif" font-size="11.3" font-weight="bold" textLength="5.2" lengthAdjust="spacingAndGlyphs" text-anchor="start" fill="#262626">8</text>
<line x1="47.80" y1="336.00" x2="59.20" y2="336.70" stroke="#262626" stroke-width="1.15"/>
<line x1="59.20" y1="336.70" x2="66.00" y2="334.30" stroke="#262626" stroke-width="1.15"/>
<line x1="72.20" y1="334.60" x2="83.30" y2="339.20" stroke="#262626" stroke-width="1.15"/>
<line x1="72.66" y1="336.63" x2="81.54" y2="340.31" stroke="#262626" stroke-width="1.15"/>
<line x1="83.30" y1="339.20" x2="83.60" y2="351.20" stroke="#262626" stroke-width="1.15"/>
<line x1="81.00" y1="356.60" x2="72.50" y2="362.50" stroke="#262626" stroke-width="1.15"/>
<line x1="79.18" y1="355.79" x2="72.38" y2="360.51" stroke="#262626" stroke-width="1.15"/>
<line x1="72.50" y1="362.50" x2="59.20" y2="355.80" stroke="#262626" stroke-width="1.15"/>
<line x1="59.20" y1="355.80" x2="59.20" y2="336.70" stroke="#262626" stroke-width="1.15"/>
<line x1="61.00" y1="353.89" x2="61.00" y2="338.61" stroke="#262626" stroke-width="1.15"/>
<line x1="59.20" y1="355.80" x2="49.20" y2="359.60" stroke="#262626" stroke-width="1.15"/>
<line x1="43.50" y1="357.40" x2="39.20" y2="347.50" stroke="#262626" stroke-width="1.15"/>
<line x1="44.63" y1="355.73" x2="41.19" y2="347.81" stroke="#262626" stroke-width="1.15"/>
<line x1="39.20" y1="347.50" x2="42.60" y2="339.00" stroke="#262626" stroke-width="1.15"/>
<text x="45.00" y="339.00" font-family="Liberation Serif" font-size="9.8" text-anchor="middle" fill="#262626" stroke="#262626" stroke-width="0.1">N</text>
<text x="69.00" y="336.60" font-family="Liberation Serif" font-size="9.8" text-anchor="middle" fill="#262626" stroke="#262626" stroke-width="0.1">N</text>
<text x="84.00" y="358.20" font-family="Liberation Serif" font-size="9.8" text-anchor="middle" fill="#262626" stroke="#262626" stroke-width="0.1">N</text>
<text x="46.00" y="363.60" font-family="Liberation Serif" font-size="9.8" text-anchor="middle" fill="#262626" stroke="#262626" stroke-width="0.1">N</text>
<line x1="72.50" y1="362.50" x2="71.90" y2="368.90" stroke="#262626" stroke-width="1.15"/>
<text x="68.20" y="376.80" font-family="Liberation Serif" font-size="9.6" textLength="14.0" lengthAdjust="spacingAndGlyphs" text-anchor="start" fill="#262626" stroke="#262626" stroke-width="0.18">NH</text>
<text x="82.90" y="379.20" font-family="Liberation Serif" font-size="6.8" text-anchor="start" fill="#262626" stroke="#262626" stroke-width="0.18">2</text>
</svg>
</body></html>
